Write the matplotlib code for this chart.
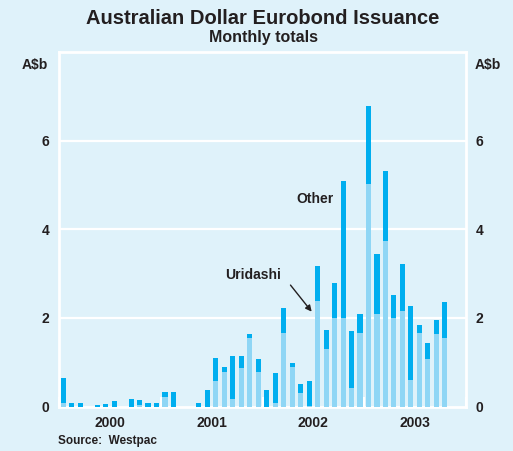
import numpy as np
import matplotlib
matplotlib.use("Agg")
import matplotlib.pyplot as plt

plt.rcParams['font.family'] = ['Liberation Sans', 'DejaVu Sans']
plt.rcParams['font.weight'] = 'bold'
plt.rcParams['text.color'] = '#231f20'
plt.rcParams['xtick.labelcolor'] = '#231f20'
plt.rcParams['ytick.labelcolor'] = '#231f20'

# monthly totals, Jan 2000 - Oct 2003 (A$b)
total = [0.65, 0.08, 0.08, 0.0, 0.04, 0.06, 0.12, 0.0, 0.17, 0.15, 0.08, 0.08,
         0.33, 0.33, 0.0, 0.0, 0.08, 0.37, 1.10, 0.89, 1.14, 1.14, 1.64, 1.07,
         0.37, 0.76, 2.23, 0.98, 0.51, 0.58, 3.18, 1.73, 2.79, 5.08, 1.71, 2.09,
         6.78, 3.45, 5.31, 2.52, 3.22, 2.27, 1.84, 1.44, 1.96, 2.36]
uridashi = [0.08, 0.0, 0.0, 0.0, 0.0, 0.0, 0.0, 0.0, 0.0, 0.04, 0.0, 0.0,
            0.22, 0.0, 0.0, 0.0, 0.0, 0.0, 0.58, 0.78, 0.17, 0.87, 1.55, 0.78,
            0.0, 0.08, 1.66, 0.89, 0.31, 0.02, 2.39, 1.30, 2.00, 2.00, 0.42, 1.66,
            5.03, 2.09, 3.74, 2.00, 2.16, 0.60, 1.66, 1.07, 1.64, 1.55]
years = ['2000', '2001', '2002', '2003']
yticks = [0, 2, 4, 6]

bg = '#dff2fa'
dark = '#00aeef'
light = '#8fd6f5'

total = np.array(total)
uridashi = np.array(uridashi)
x = np.arange(len(total)) + 0.5

fig = plt.figure(figsize=(5.13, 4.51), dpi=100, facecolor=bg)
ax = fig.add_axes([59/513, 44.5/451, 407/513, 354.5/451], facecolor=bg)

ax.bar(x, uridashi, width=0.6, color=light, zorder=3)
ax.bar(x, total - uridashi, bottom=uridashi, width=0.6, color=dark, zorder=3)

ax.set_xlim(0, 48)
ax.set_ylim(0, 8)
for v in [2, 4, 6]:
    ax.axhline(v, color='white', lw=1.6, zorder=1)
for s in ax.spines.values():
    s.set_color('white')
    s.set_linewidth(2)

ax.set_xticks([0, 12, 24, 36, 48])
ax.set_xticklabels([])
ax.tick_params(axis='x', which='major', direction='in', length=7, width=1.5, color='white')
ax.set_xticks([6, 18, 30, 42], minor=True)
ax.set_xticklabels(years, minor=True)
ax.tick_params(axis='x', which='minor', length=0, pad=7, labelsize=10)

ax.set_yticks(yticks)
ax.tick_params(axis='y', length=0, labelsize=10, pad=7, labelleft=True, labelright=True)
ax.set_yticklabels([str(t) for t in yticks])

fig.text(0.513, 0.958, 'Australian Dollar Eurobond Issuance', ha='center', va='center', fontsize=14.5)
fig.text(0.513, 0.916, 'Monthly totals', ha='center', va='center', fontsize=11.5)
fig.text(35/513, 1 - 65/451, 'A$b', ha='center', va='center', fontsize=10)
fig.text(488/513, 1 - 65/451, 'A$b', ha='center', va='center', fontsize=10)
fig.text(58/513, 1 - 441/451, 'Source:  Westpac', ha='left', va='center', fontsize=8.5)

ax.text(30.2, 4.69, 'Other', ha='center', va='center', fontsize=10)
ax.text(22.9, 2.97, 'Uridashi', ha='center', va='center', fontsize=10)
ax.annotate('', xy=(29.8, 2.14), xytext=(27.3, 2.74),
            arrowprops=dict(arrowstyle='-|>', color='#231f20', lw=1,
                            shrinkA=0, shrinkB=0, mutation_scale=9))

fig.savefig('out.png', dpi=100, facecolor=bg)
